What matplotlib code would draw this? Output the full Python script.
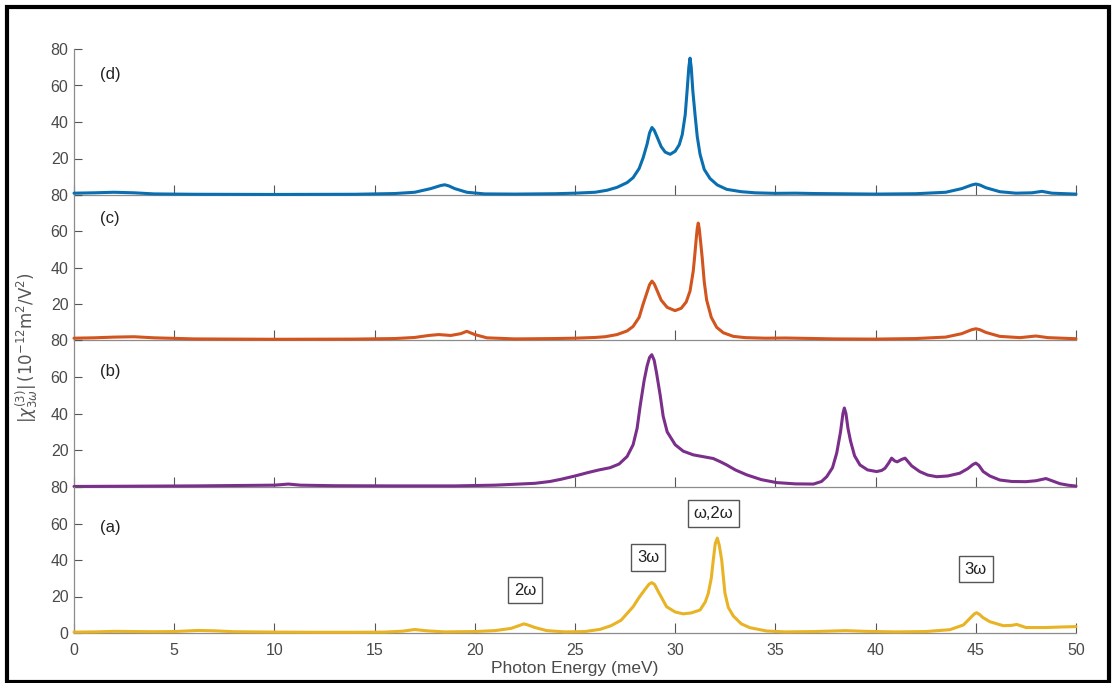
import matplotlib
matplotlib.use("Agg")
import matplotlib.pyplot as plt
from matplotlib.patches import Rectangle

plt.rcParams['font.family'] = ['Liberation Sans', 'DejaVu Sans']

# ---------------- data ----------------
energy_ticks = [0, 5, 10, 15, 20, 25, 30, 35, 40, 45, 50]
y_ticks = [0, 20, 40, 60, 80]
y_ticklabels_bottom = ['0', '20', '40', '60', '80']
y_ticklabels_upper = ['', '20', '40', '60', '80']

# panel (d) - blue
d_x = [0, 1, 2, 3, 4, 6, 10, 14, 16, 17, 17.8, 18.3, 18.5, 18.7, 19.0, 19.6, 20.5, 22, 24, 25, 26, 26.6,
       27.1, 27.6, 27.9, 28.2, 28.4, 28.6, 28.72, 28.84, 28.95, 29.05, 29.3, 29.5, 29.75, 30.0, 30.2,
       30.35, 30.5, 30.6, 30.68, 30.74, 30.8, 30.88, 30.99, 31.1, 31.24, 31.45, 31.74, 32.1, 32.57,
       33.3, 34, 35, 36, 37, 40, 42, 43.5, 44.3, 44.8, 45.0, 45.2, 45.5, 46.2, 47, 47.8, 48.3, 48.8, 50]
d_y = [1.0, 1.2, 1.5, 1.2, 0.6, 0.4, 0.3, 0.4, 0.8, 1.5, 3.5, 5.2, 5.6, 5.0, 3.5, 1.5, 0.6, 0.5, 0.7, 1.0, 1.5, 2.6,
       4.2, 6.8, 9.5, 14.5, 20.4, 28, 34, 37, 35.5, 33, 26.5, 23.5, 22.3, 24, 27.5,
       33, 44, 58, 70, 75, 70, 57, 44, 32, 22.3, 14, 9, 5.5, 3.1,
       1.8, 1.2, 0.9, 1.0, 0.8, 0.5, 0.7, 1.5, 3.5, 5.5, 6.0, 5.5, 4.0, 1.8, 1.0, 1.2, 2.0, 1.0, 0.5]

# panel (c) - orange
c_x = [0, 1, 2, 3, 4, 6, 10, 14, 16, 17, 17.7, 18.2, 18.8, 19.3, 19.6, 20.0, 20.6, 22, 24, 25, 26,
       26.5, 27.1, 27.6, 27.9, 28.2, 28.4, 28.6, 28.72, 28.84, 28.95, 29.05, 29.3, 29.6, 29.99,
       30.3, 30.55, 30.74, 30.9, 30.97, 31.05, 31.1, 31.15, 31.2, 31.27, 31.35, 31.45, 31.57,
       31.8, 32.07, 32.4, 32.9, 33.5, 34.5, 35.5, 36.5, 38, 40, 42, 43.5, 44.3, 44.8, 45.0, 45.2,
       45.5, 46.2, 47.2, 48.0, 48.6, 50]
c_y = [1.0, 1.2, 1.6, 1.8, 1.2, 0.6, 0.4, 0.5, 0.8, 1.4, 2.5, 3.0, 2.5, 3.5, 4.8, 3.0, 1.2, 0.6, 0.8, 1.0, 1.4,
       1.8, 3.0, 5.0, 7.5, 12.5, 19.8, 26.5, 30.5, 32.5, 31, 28.5, 22, 18, 16.2,
       17.5, 21, 27, 38, 46, 56, 61.5, 64.5, 61.5, 54, 45, 32, 22,
       12.5, 7, 4, 2.0, 1.3, 1.0, 1.1, 0.9, 0.6, 0.5, 0.8, 1.6, 3.5, 5.7, 6.2, 5.7,
       4.2, 2.0, 1.3, 2.2, 1.3, 0.7]

# panel (b) - purple
b_x = [0, 2, 4, 6, 8, 10, 10.7, 11.3, 13, 16, 19, 21, 22, 23, 23.75, 24.3, 25, 25.7, 26.2, 26.75,
       27.2, 27.6, 27.9, 28.1, 28.25, 28.45, 28.6, 28.72, 28.83, 28.95, 29.07, 29.25, 29.4, 29.6,
       30.0, 30.4, 30.9, 31.4, 31.9, 32.3, 32.57, 33.0, 33.57, 34.3, 35.06, 36.0, 36.9, 37.3,
       37.56, 37.85, 38.06, 38.25, 38.37, 38.44, 38.52, 38.62, 38.75, 38.95, 39.22, 39.6, 40.05,
       40.3, 40.47, 40.65, 40.8, 40.95, 41.08, 41.3, 41.47, 41.8, 42.2, 42.6, 43.05, 43.6, 44.2,
       44.6, 44.85, 45.0, 45.15, 45.37, 45.7, 46.2, 46.8, 47.5, 48.0, 48.5, 48.9, 49.2, 49.6, 50]
b_y = [0.3, 0.4, 0.5, 0.6, 0.8, 1.0, 1.6, 1.0, 0.7, 0.6, 0.6, 1.0, 1.5, 2.0, 3.0, 4.2, 6.0, 8.0, 9.3, 10.5,
       12.5, 16.6, 23, 32, 44, 58, 66, 70.5, 72, 69, 62, 50, 38.5, 30,
       23, 19.5, 17.5, 16.5, 15.5, 13.5, 12, 9.3, 6.6, 4.0, 2.4, 1.7, 1.6, 3.0,
       5.6, 10.5, 18.5, 30, 40, 43, 40, 32, 25, 17, 12, 9.3, 8.4,
       9.0, 10.2, 13, 15.7, 14.2, 13.7, 15.0, 15.7, 11.5, 8.4, 6.5, 5.6, 6.0, 7.5,
       10, 12.2, 13, 11.8, 8.4, 6.0, 3.8, 3.0, 2.9, 3.4, 4.6, 3.0, 1.8, 1.0, 0.5]

# panel (a) - yellow
a_x = [0, 1, 2, 3, 4, 5, 6.2, 7, 8, 10, 12, 14, 15.5, 16.4, 17.0, 17.6, 18.5, 20, 21, 21.8, 22.25,
       22.45, 22.65, 23.0, 23.6, 24.5, 25.5, 26.25, 26.8, 27.3, 27.9, 28.2, 28.5, 28.7, 28.83,
       28.97, 29.16, 29.57, 30.0, 30.4, 30.8, 31.24, 31.5, 31.65, 31.8, 31.9, 32.0, 32.1, 32.2,
       32.32, 32.48, 32.65, 32.9, 33.3, 33.73, 34.56, 35.5, 37, 38.5, 39.5, 41, 42.5, 43.7,
       44.38, 44.75, 44.92, 45.04, 45.18, 45.35, 45.7, 46.37, 46.8, 47.04, 47.5, 48.5, 49.3, 50]
a_y = [0.5, 0.6, 0.9, 0.8, 0.7, 0.8, 1.4, 1.2, 0.7, 0.5, 0.4, 0.4, 0.5, 1.0, 1.9, 1.2, 0.6, 0.8, 1.3, 2.5, 4.2,
       5.0, 4.4, 3.0, 1.3, 0.6, 0.8, 2.0, 4.0, 7.0, 14.4, 19.5, 24, 26.8, 27.6,
       26.6, 22.6, 14.4, 11.5, 10.5, 11.0, 12.6, 17, 21.7, 30, 40, 49, 52, 48,
       40, 22, 14, 9.3, 5, 2.9, 1.1, 0.6, 0.8, 1.3, 0.9, 0.6, 0.8, 1.8,
       4.4, 8.5, 10.4, 11.1, 10.2, 8.5, 6.2, 4.0, 4.2, 4.7, 3.0, 3.0, 3.3, 3.5]

panel_labels = ['(d)', '(c)', '(b)', '(a)']
annot_text = ['2\u03c9', '3\u03c9', '\u03c9,2\u03c9', '3\u03c9']
annot_x = [22.5, 28.65, 31.9, 45.0]
annot_y = [23.5, 41.5, 65.5, 35.0]

# ---------------- styling ----------------
colors = ['#0a6fb0', '#D2541E', '#7A2F8A', '#E8B325']
series = [(d_x, d_y), (c_x, c_y), (b_x, b_y), (a_x, a_y)]
label_y = [66, 67, 63, 58]

W, H = 1112, 683
fig = plt.figure(figsize=(W / 100, H / 100), dpi=100)
fig.patch.set_facecolor('white')

left = 74 / W
width = (1076 - 74) / W
tops_px = [49, 195, 340, 487]
bots_px = [195, 340, 487, 633]

tick_gray = '#4a4a4a'
spine_gray = '#8c8c8c'

axes = []
for i in range(4):
    bottom = 1 - bots_px[i] / H
    height = (bots_px[i] - tops_px[i]) / H
    ax = fig.add_axes([left, bottom, width, height])
    ax.set_facecolor('none')
    xs, ys = series[i]
    ax.plot(xs, ys, color=colors[i], lw=2.2, clip_on=False, zorder=3,
            solid_joinstyle='round', solid_capstyle='round')
    ax.set_xlim(0, 50)
    ax.set_ylim(0, 80)
    ax.set_xticks(energy_ticks)
    ax.set_yticks(y_ticks)
    ax.set_yticklabels(y_ticklabels_bottom if i == 3 else y_ticklabels_upper)
    for s in ['top', 'right']:
        ax.spines[s].set_visible(False)
    for s in ['left', 'bottom']:
        ax.spines[s].set_color(spine_gray)
        ax.spines[s].set_linewidth(0.9)
    ax.tick_params(axis='both', direction='in', colors='#555555', labelcolor=tick_gray,
                   labelsize=11.5, width=0.8)
    ax.tick_params(axis='x', length=7, pad=7)
    ax.tick_params(axis='y', length=6, pad=4)
    if i < 3:
        ax.tick_params(axis='x', labelbottom=False)
    ax.text(1.3, label_y[i], panel_labels[i], fontsize=12, color='#222222',
            va='center', ha='left')
    axes.append(ax)

ax_a = axes[3]
ax_a.set_xlabel('Photon Energy (meV)', fontsize=12.5, color=tick_gray, labelpad=2.5)
for t, x, y in zip(annot_text, annot_x, annot_y):
    ax_a.text(x, y, t, fontsize=12, color='#222222', ha='center', va='center',
              bbox=dict(boxstyle='square,pad=0.35', fc='white', ec='#555555', lw=1.0),
              zorder=5)

fig.text(27 / W, 1 - 348 / H,
         r'$|\chi^{(3)}_{3\omega}|\,(10^{-12}\mathrm{m}^2/\mathrm{V}^2)$',
         rotation=90, ha='center', va='center', fontsize=12, color='#555555')

# outer black frame
fig.patches.append(Rectangle((7 / W, 1.5 / H), (1109 - 7) / W, (676.5 - 1.5) / H,
                             transform=fig.transFigure, fill=False, ec='black', lw=3.0))

fig.savefig('out.png', dpi=100)
